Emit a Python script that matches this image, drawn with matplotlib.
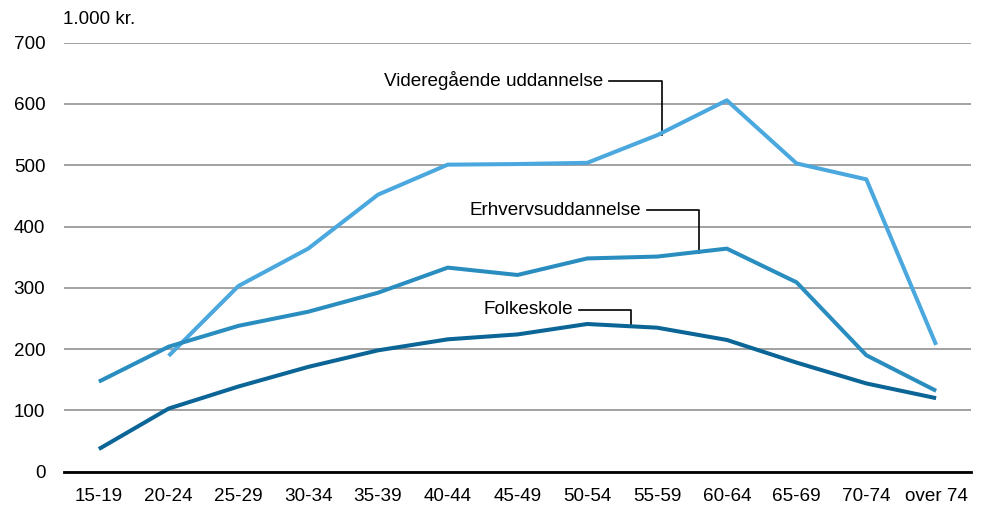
import matplotlib.pyplot as plt
from matplotlib import font_manager
import numpy as np

# data (1.000 kr.)
ages = ['15-19', '20-24', '25-29', '30-34', '35-39', '40-44', '45-49',
        '50-54', '55-59', '60-64', '65-69', '70-74', 'over 74']
folkeskole = [37, 103, 139, 171, 198, 216, 224, 241, 235, 215, 178, 144, 120]
erhverv = [147, 204, 238, 261, 292, 333, 321, 348, 351, 364, 309, 190, 132]
videregaaende = [np.nan, 189, 303, 364, 452, 501, 502, 504, 549, 606, 503, 477, 207]

names = [f.name for f in font_manager.fontManager.ttflist]
if 'Liberation Sans Narrow' in names:
    plt.rcParams['font.family'] = ['Liberation Sans Narrow', 'DejaVu Sans']
else:
    plt.rcParams['font.family'] = ['Liberation Sans', 'DejaVu Sans']

fs = 13.6

fig = plt.figure(figsize=(9.81, 5.08), dpi=100)
ax = fig.add_axes([64 / 981, 36.3 / 508, 907 / 981, 429 / 508])

x = np.arange(len(ages))
ax.plot(x, videregaaende, color='#4AA8DE', lw=2.9, solid_capstyle='butt', zorder=3)
ax.plot(x, erhverv, color='#2A8DC0', lw=2.9, solid_capstyle='butt', zorder=3)
ax.plot(x, folkeskole, color='#0B6596', lw=2.9, solid_capstyle='butt', zorder=3)

ax.set_xlim(-0.5, len(ages) - 0.5)
ax.set_ylim(0, 700)
ax.set_yticks(range(0, 701, 100))
ax.set_xticks(x)
ax.set_xticklabels(ages)
ax.tick_params(axis='both', length=0, labelsize=fs)
ax.tick_params(axis='y', pad=13.5)
ax.tick_params(axis='x', pad=12)

ax.grid(axis='y', color='#9a9a9a', lw=1.3)
ax.set_axisbelow(True)
for s in ['top', 'right', 'left']:
    ax.spines[s].set_visible(False)
ax.spines['bottom'].set_color('black')
ax.spines['bottom'].set_linewidth(2)
ax.spines['bottom'].set_zorder(4)

fig.text(63 / 981, 1 - 20 / 508, '1.000 kr.', fontsize=fs, va='center', ha='left')

# labels with leader lines
def label(text, tx, ty, x_end, y_end):
    ax.text(tx, ty, text, fontsize=fs, ha='right', va='center')
    ax.plot([tx + 0.08, x_end, x_end], [ty, ty, y_end], color='black', lw=1.2, zorder=2)

label('Videregående uddannelse', 7.23, 638, 8.07, 549)
label('Erhvervsuddannelse', 7.77, 427, 8.6, 357)
label('Folkeskole', 6.80, 264, 7.62, 236)

fig.savefig('out.png', dpi=100)
